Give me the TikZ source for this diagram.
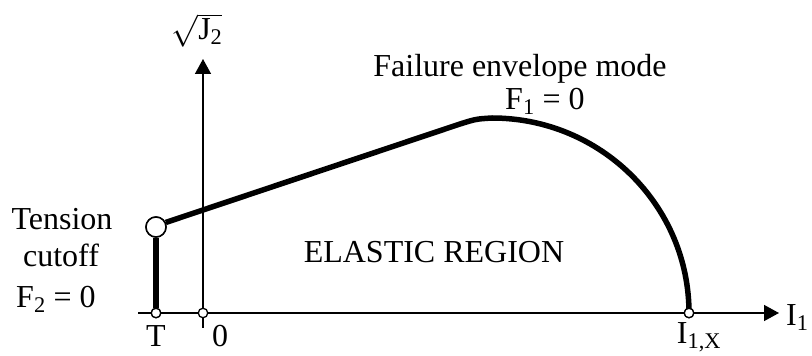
\RequirePackage{fix-cm}
\documentclass[tikz,border=0pt]{standalone}
\usepackage{fontspec}
\setmainfont{Liberation Serif}
\usetikzlibrary{arrows.meta}
\begin{document}
\begin{tikzpicture}[x=1pt,y=1pt,
  lbl/.style={font=\fontsize{32}{38}\selectfont, inner sep=0pt},
  axisline/.style={line width=1.5pt, -{Triangle[length=15pt,width=16pt]}},
  envline/.style={line width=5.5pt, line join=round},
  smalldot/.style={circle, draw, fill=white, line width=1.3pt, inner sep=0pt, minimum size=9.5pt},
  bigdot/.style={circle, draw, fill=white, line width=1.5pt, inner sep=0pt, minimum size=20pt}]
\useasboundingbox (0,0) rectangle (812,356);
% axes
\coordinate (xs) at (138,43);
\coordinate (xe) at (779,43);
\coordinate (ys) at (203,28);
\coordinate (ye) at (203,297);
\draw[axisline] (xs) -- (xe);
\draw[axisline] (ys) -- (ye);
% points
\node[smalldot] (T) at (156,43) {};
\node[smalldot] (O) at (203,43) {};
\node[smalldot] (IX) at (689,43) {};
\node[bigdot] (C) at (156,129) {};
\coordinate (k) at (460,232);
\coordinate (pk) at (492,238);
% envelope
\draw[envline] (T.north) -- (C.south);
\draw[envline] (C.25) -- (k) .. controls (476,237) .. (pk)
  arc[start angle=90, end angle=0, x radius=197, y radius=195];
% redraw dots on top
\node[smalldot] at (T) {};
\node[smalldot] at (IX) {};
\node[bigdot] at (C) {};
% labels
\node[lbl, anchor=base] (sq) at (197,316) {$\sqrt{\mbox{J\textsubscript{2}}}$};
\node[lbl, anchor=base] (fem) at (520,279) {Failure envelope mode};
\node[lbl, anchor=base] (f1) at (545,246) {F\textsubscript{1} = 0};
\node[lbl, anchor=base] (el) at (434,93) {ELASTIC REGION};
\node[lbl, anchor=base] (ten) at (62,126) {Tension};
\node[lbl, anchor=base] (cut) at (61,89) {cutoff};
\node[lbl, anchor=base] (f2) at (56,48) {F\textsubscript{2} = 0};
\node[lbl, anchor=base] (tl) at (156,9) {T};
\node[lbl, anchor=base] (ol) at (220,9) {0};
\node[lbl, anchor=base] (ixl) at (699,12) {I\textsubscript{1,X}};
\node[lbl, anchor=base west] (i1) at (786,30) {I\textsubscript{1}};
\end{tikzpicture}
\end{document}
